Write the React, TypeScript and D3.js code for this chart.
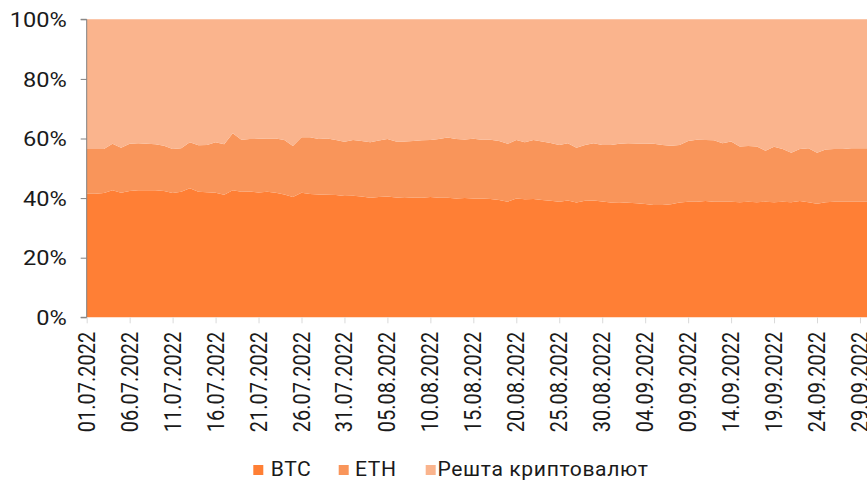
import React, { useEffect, useRef } from "react";
import * as d3 from "d3";

// daily shares, % of total crypto market cap, 01.07.2022 - 30.09.2022
const btc = [
  41.5, 41.5, 41.7, 42.6, 41.8, 42.4, 42.6, 42.6, 42.6, 42.4, 41.7, 42.1, 43.3, 42.1, 42.0, 41.8,
  41.1, 42.6, 42.1, 42.2, 41.9, 42.1, 41.8, 41.2, 40.4, 41.8, 41.4, 41.2, 41.1, 41.0, 40.7, 40.8,
  40.5, 40.1, 40.4, 40.5, 40.2, 40.0, 40.2, 40.1, 40.4, 40.1, 40.1, 39.9, 40.0, 39.9, 39.9, 39.7,
  39.4, 38.8, 39.9, 39.6, 39.7, 39.4, 39.1, 38.8, 39.2, 38.5, 39.1, 39.2, 38.9, 38.5, 38.6, 38.4,
  38.3, 38.0, 37.7, 37.7, 37.9, 38.5, 38.8, 38.8, 39.0, 38.8, 38.8, 38.8, 38.6, 38.8, 38.6, 38.8,
  38.6, 38.8, 38.6, 39.0, 38.6, 38.1, 38.6, 38.8, 38.8, 38.8, 38.8, 38.8,
];
const eth = [
  15.0, 15.0, 14.8, 15.6, 15.1, 15.8, 15.8, 15.6, 15.5, 15.2, 14.8, 14.6, 15.4, 15.6, 15.8, 16.9,
  17.0, 19.2, 17.5, 17.6, 18.0, 17.9, 18.2, 18.3, 17.1, 18.6, 19.0, 18.6, 18.9, 18.5, 18.2, 18.7,
  18.7, 18.6, 18.9, 19.3, 18.8, 19.0, 19.0, 19.3, 19.1, 19.7, 20.2, 19.9, 19.7, 20.0, 19.7, 19.9,
  19.8, 19.4, 19.6, 19.1, 19.8, 19.6, 19.4, 19.0, 19.2, 18.4, 18.7, 19.2, 18.9, 19.3, 19.6, 20.0,
  20.0, 20.3, 20.5, 20.1, 19.7, 19.3, 20.4, 20.8, 20.5, 20.6, 19.6, 20.2, 18.7, 18.7, 18.7, 17.1,
  18.6, 17.7, 16.6, 17.5, 18.1, 17.1, 17.7, 17.7, 17.7, 17.9, 17.9, 17.9,
];
const other = [
  43.5, 43.5, 43.5, 41.8, 43.1, 41.8, 41.6, 41.8, 41.9, 42.4, 43.5, 43.3, 41.3, 42.3, 42.2, 41.3,
  41.9, 38.2, 40.4, 40.2, 40.1, 40.0, 40.0, 40.5, 42.5, 39.6, 39.6, 40.2, 40.0, 40.5, 41.1, 40.5,
  40.8, 41.3, 40.7, 40.2, 41.0, 41.0, 40.8, 40.6, 40.5, 40.2, 39.7, 40.2, 40.3, 40.1, 40.4, 40.4,
  40.8, 41.8, 40.5, 41.3, 40.5, 41.0, 41.5, 42.2, 41.6, 43.1, 42.2, 41.6, 42.2, 42.2, 41.8, 41.6,
  41.7, 41.7, 41.8, 42.2, 42.4, 42.2, 40.8, 40.4, 40.5, 40.6, 41.6, 41.0, 42.7, 42.5, 42.7, 44.1,
  42.8, 43.5, 44.8, 43.5, 43.3, 44.8, 43.7, 43.5, 43.5, 43.3, 43.3, 43.3,
];

const seriesNames = ["BTC", "ETH", "Решта криптовалют"];
const colors = ["#ff7f35", "#f9955a", "#fab48d"];

const tickLabels = [
  "01.07.2022", "06.07.2022", "11.07.2022", "16.07.2022", "21.07.2022", "26.07.2022", "31.07.2022",
  "05.08.2022", "10.08.2022", "15.08.2022", "20.08.2022", "25.08.2022", "30.08.2022", "04.09.2022",
  "09.09.2022", "14.09.2022", "19.09.2022", "24.09.2022", "29.09.2022",
];
const yTicks = [0, 0.2, 0.4, 0.6, 0.8, 1];

const width = 867;
const height = 480;
const margin = { top: 19.3, left: 86.7, bottom: 162.7 };
const stretch = 1.18; // the source picture is a bit wider than tall
const font = "Roboto, 'Liberation Sans', Arial, sans-serif";

export default function App() {
  const plotRef = useRef<SVGGElement>(null);
  const xAxisRef = useRef<SVGGElement>(null);
  const yAxisRef = useRef<SVGGElement>(null);

  const rows = btc.map((d, i) => ({ i, BTC: d, ETH: eth[i], Rest: other[i] }));
  const keys = ["BTC", "ETH", "Rest"];

  const x = d3
    .scaleLinear()
    .domain([0, rows.length - 1])
    .range([margin.left, margin.left + (rows.length - 1) * 8.592]);
  const y = d3
    .scaleLinear()
    .domain([0, 1])
    .range([height - margin.bottom, margin.top]);

  useEffect(() => {
    const stacked = d3.stack<any>().keys(keys).offset(d3.stackOffsetExpand)(rows);
    const area = d3
      .area<any>()
      .x((d) => x(d.data.i))
      .y0((d) => y(d[0]))
      .y1((d) => y(d[1]));

    const g = d3.select(plotRef.current);
    g.selectAll("path")
      .data(stacked)
      .join("path")
      .attr("d", area)
      .attr("fill", (d, i) => colors[i]);

    // y axis
    const yAxis = d3.select(yAxisRef.current);
    yAxis.call(
      d3.axisLeft(y).tickValues(yTicks).tickSize(6).tickPadding(14).tickFormat(d3.format(".0%"))
    );
    yAxis.select(".domain").attr("stroke", "#808080").attr("d", `M-6,${y(0)}H0V${y(1)}H-6`);
    yAxis.selectAll(".tick line").attr("stroke", "#808080");
    yAxis
      .selectAll(".tick text")
      .attr("x", null)
      .attr("dy", null)
      .attr("text-anchor", "end")
      .attr("font-family", font)
      .attr("font-size", 20)
      .attr("fill", "#1a1a1a")
      .attr("transform", `translate(-20,7.2) scale(${stretch},1)`);

    // x axis
    const xAxis = d3.select(xAxisRef.current);
    xAxis.call(
      d3
        .axisBottom(x)
        .tickValues(tickLabels.map((_, k) => k * 5))
        .tickSize(6)
        .tickFormat((d, k) => tickLabels[k])
    );
    xAxis.select(".domain").remove();
    xAxis.selectAll(".tick line").attr("stroke", "#d9d9d9");
    xAxis
      .selectAll(".tick text")
      .attr("y", null)
      .attr("dy", null)
      .attr("text-anchor", "end")
      .attr("font-family", font)
      .attr("font-size", 20)
      .attr("fill", "#1a1a1a")
      .attr("transform", `translate(7.5,14.5) scale(${stretch},1) rotate(-90)`);
  }, []);

  const legendBox = [253.3, 338.7, 425.7];
  const legendText = [270.7, 355, 437.5];

  return (
    <svg
      width={width}
      height={height}
      style={{ position: "absolute", left: 0, top: 0, background: "#fff" }}
    >
      <g ref={plotRef} />
      <g ref={xAxisRef} transform={`translate(0, ${height - margin.bottom})`} />
      <g ref={yAxisRef} transform={`translate(${margin.left}, 0)`} />
      <g>
        {seriesNames.map((name, i) => (
          <g key={name}>
            <rect x={legendBox[i]} y={465} width={10} height={10} fill={colors[i]} />
            <text
              transform={`translate(${legendText[i]}, 476.3) scale(1.03,1)`}
              fontFamily={font}
              fontSize={20.5}
              letterSpacing={0.6}
              fill="#1a1a1a"
            >
              {name}
            </text>
          </g>
        ))}
      </g>
    </svg>
  );
}
